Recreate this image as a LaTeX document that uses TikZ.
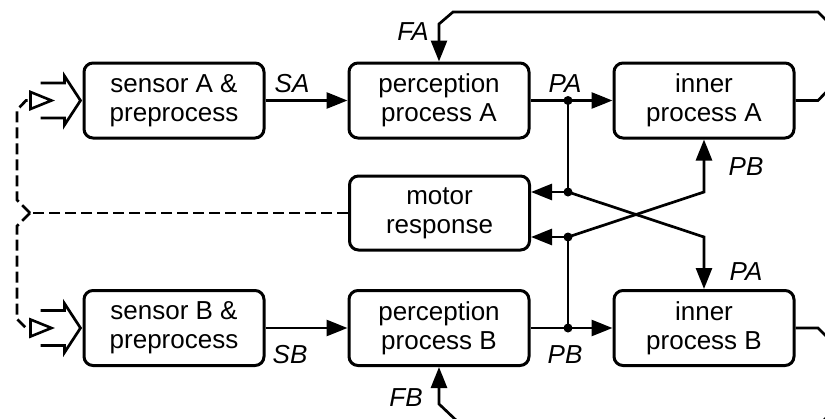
\documentclass[tikz,border=0pt]{standalone}
\usepackage{fontspec}
\setmainfont{Liberation Sans}
\usetikzlibrary{arrows.meta,calc}

\begin{document}
\begin{tikzpicture}[x=1pt,y=-1pt,
  box/.style={draw, line width=3pt, rounded corners=9pt,
    minimum width=180pt, minimum height=75pt, align=center, inner sep=0pt,
    font=\fontsize{26}{29}\selectfont},
  wire/.style={line width=2.7pt},
  arr/.style={wire, -{Triangle[length=21pt,width=16pt]}},
  lbl/.style={font=\fontsize{26}{29}\selectfont\itshape, inner sep=0pt, anchor=base},
  motorwire/.style={line width=2.7pt, dash pattern=on 11pt off 5pt},
  openhead/.style={line width=2.6pt, line join=miter},
  dot/.style={circle, fill, inner sep=0pt, minimum size=9pt}]

\useasboundingbox (0,0) rectangle (825,418);

% processing blocks
\node[box] (sA) at (174,100.5) {sensor A \&\\preprocess};
\node[box] (pA) at (439,100.5) {perception\\process A};
\node[box] (iA) at (704,100.5) {inner\\process A};
\node[box, minimum height=74pt] (mr) at (439.5,213) {motor\\response};
\node[box] (sB) at (174,328) {sensor B \&\\preprocess};
\node[box] (pB) at (439,328) {perception\\process B};
\node[box] (iB) at (704,328) {inner\\process B};

% sensor to perception
\draw[arr] (sA.east) -- (pA.west);
\draw[arr] (sB.east) -- (pB.west);
\node[lbl] at (292,92) {SA};
\node[lbl] at (290,363) {SB};

% perception to inner processes, with branches
\node[dot] (jA) at (568,100.5) {};
\node[dot] (kA) at (568,192) {};
\node[dot] (jB) at (568,328) {};
\node[dot] (kB) at (568,237) {};
\draw[arr] (pA.east) -- (iA.west);
\draw[arr] (pB.east) -- (iB.west);
\draw[wire] (jA.center) -- (kA.center);
\draw[wire] (jB.center) -- (kB.center);
\draw[arr] (kA.center) -- (mr.east |- kA);
\draw[arr] (kB.center) -- (mr.east |- kB);
\draw[arr] (kA.center) -- (iB.north |- kB) -- (iB.north);
\draw[arr] (kB.center) -- (iA.south |- kA) -- (iA.south);
\node[lbl] at (565,92) {PA};
\node[lbl] at (565,363) {PB};
\node[lbl] at (746,175) {PB};
\node[lbl] at (746,280) {PA};

% feedback loops
\draw[arr] (iA.east) -- (818,100.5) -- (834,84) -- (834,28) -- (818,12)
  -- (453,12) -- (pA.north |- 0,24) -- (pA.north);
\draw[arr] (iB.east) -- (818,328) -- (834,344) -- (834,410) -- (822,422)
  -- (458,422) -- (pB.south |- 0,404) -- (pB.south);
\node[lbl] at (413,40) {FA};
\node[lbl] at (406,406) {FB};

% external input arrows to the sensors, each with an open head for the motor feedback
\foreach \s in {sA,sB}{
  \begin{scope}[shift={(\s.west)}]
    \draw[line width=2.7pt, line join=miter]
      (-42,-17.5) -- (-18,-17.5) -- (-18,-24.5) -- (-2,0)
      -- (-18,24.5) -- (-18,17.5) -- (-42,17.5);
    \draw[openhead] (-52,-8.5) -- (-31,0) -- (-52,8.5) -- cycle;
    \coordinate (\s tip) at (-52,0);
  \end{scope}
}

% motor feedback to the sensors
\coordinate (fork) at (30,213);
\draw[motorwire] (mr.west) -- (fork);
\draw[motorwire] (fork) -- (17,200) -- (17,110) -- (26,100.5) -- (sAtip);
\draw[motorwire] (fork) -- (17,226) -- (17,319) -- (26,328) -- (sBtip);
\end{tikzpicture}
\end{document}
